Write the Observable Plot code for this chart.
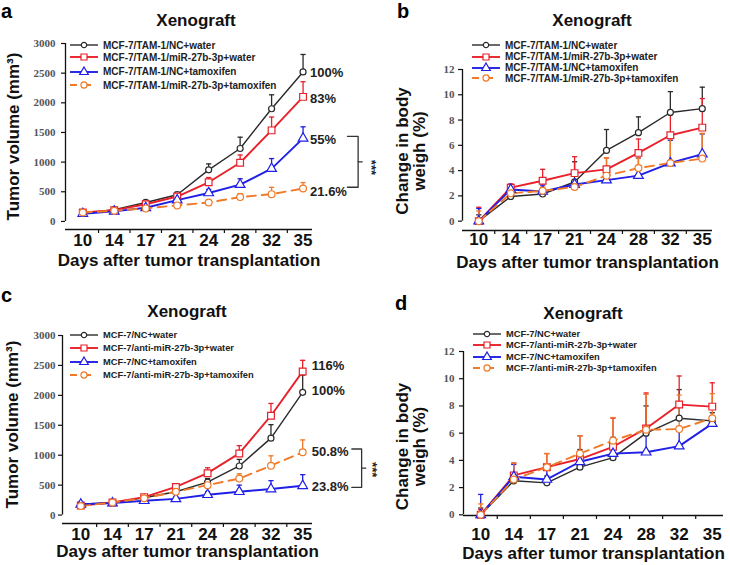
<!DOCTYPE html>
<html><head><meta charset="utf-8">
<script src="https://cdn.jsdelivr.net/npm/d3@7"></script>
<script src="https://cdn.jsdelivr.net/npm/@observablehq/plot@0.6"></script>
<style>
body{margin:0;background:#fff;font-family:"Liberation Sans",Arial,sans-serif;}
#root{position:relative;width:730px;height:565px;overflow:hidden;background:#fff;}
.panel{position:absolute;}
.panel svg{overflow:visible;background:transparent;}
.letter{position:absolute;font-weight:bold;font-size:20px;line-height:1;color:#000;}
.title{position:absolute;font-weight:bold;font-size:17px;line-height:1;transform:translateX(-50%);white-space:nowrap;color:#111;}
.lrow{position:absolute;display:flex;align-items:center;height:12px;white-space:nowrap;font-weight:bold;color:#222;}
</style>
</head><body><div id="root"></div>
<script>
// ---------- data ----------
const days = ["10","14","17","21","24","28","32","35"];

const aNames = ["MCF-7/TAM-1/NC+water","MCF-7/TAM-1/miR-27b-3p+water","MCF-7/TAM-1/NC+tamoxifen","MCF-7/TAM-1/miR-27b-3p+tamoxifen"];
const aBlack = [140, 200, 320, 450, 870, 1230, 1900, 2520];
const aBlackErr = [15, 25, 35, 45, 100, 190, 235, 295];
const aRed = [150, 190, 290, 420, 660, 990, 1535, 2100];
const aRedErr = [15, 25, 30, 40, 80, 130, 225, 255];
const aBlue = [130, 170, 230, 360, 480, 620, 890, 1400];
const aBlueErr = [10, 20, 25, 35, 60, 100, 170, 195];
const aOrange = [150, 180, 220, 270, 320, 410, 460, 555];
const aOrangeErr = [10, 15, 20, 20, 25, 60, 115, 100];
const aPctText = ["100%","83%","55%","21.6%"];
const aPctY = [2500, 2063, 1368, 492];
const aBracketY = [1435, 576];

const bBlack = [0, 1.95, 2.15, 3.1, 5.6, 7.0, 8.6, 8.9];
const bBlackErr = [0.5, 0.2, 0.2, 1.6, 1.65, 1.25, 1.65, 1.7];
const bRed = [0, 2.65, 3.2, 3.8, 4.1, 5.4, 6.8, 7.4];
const bRedErr = [1.1, 0.3, 0.9, 1.3, 0.9, 1.1, 1.8, 2.3];
const bBlue = [0, 2.5, 2.35, 2.9, 3.25, 3.6, 4.6, 5.3];
const bBlueErr = [1.0, 0.3, 0.5, 0.3, 0.3, 1.4, 1.8, 1.6];
const bOrange = [0, 2.2, 2.4, 2.7, 3.6, 4.2, 4.6, 4.95];
const bOrangeErr = [0.8, 0.3, 0.3, 0.5, 1.4, 0.8, 2.0, 2.0];

const cNames = ["MCF-7/NC+water","MCF-7/anti-miR-27b-3p+water","MCF-7/NC+tamoxifen","MCF-7/anti-miR-27b-3p+tamoxifen"];
const cBlack = [180, 210, 290, 390, 550, 820, 1285, 2050];
const cBlackErr = [15, 20, 25, 40, 60, 110, 225, 290];
const cRed = [160, 210, 300, 470, 700, 1030, 1660, 2400];
const cRedErr = [15, 20, 30, 40, 90, 130, 205, 185];
const cBlue = [180, 200, 240, 270, 340, 390, 435, 490];
const cBlueErr = [15, 15, 20, 30, 50, 110, 140, 185];
const cOrange = [150, 210, 280, 390, 500, 610, 825, 1050];
const cOrangeErr = [10, 15, 20, 30, 50, 80, 165, 205];
const cPctText = ["116%","100%","50.8%","23.8%"];
const cPctY = [2498, 2080, 1064, 473];
const cBracketY = [1104, 462];

const dBlack = [0, 2.5, 2.35, 3.5, 4.2, 6.0, 7.1, 6.9];
const dBlackErr = [0.5, 0.6, 0.5, 1.3, 1.5, 2.0, 2.1, 0.6];
const dRed = [0, 2.9, 3.5, 4.1, 5.0, 6.35, 8.1, 7.95];
const dRedErr = [0.4, 0.9, 1.0, 1.7, 2.1, 2.6, 2.1, 1.75];
const dBlue = [0, 2.8, 2.6, 3.9, 4.5, 4.6, 5.05, 6.7];
const dBlueErr = [1.5, 0.9, 0.7, 0.3, 0.3, 1.5, 1.2, 0.3];
const dOrange = [0, 2.6, 3.5, 4.5, 5.45, 6.25, 6.3, 7.1];
const dOrangeErr = [0.8, 1.2, 1.0, 1.3, 1.7, 2.6, 2.5, 1.8];

const styles = [
  {color:"#2a2a2a", symbol:"circle", r:3, width:1.4},
  {color:"#e8202a", symbol:"square", r:3.8, width:1.9},
  {color:"#1f1fe6", symbol:"triangle", r:3.6, width:1.9},
  {color:"#f07a28", symbol:"circle", r:3.4, width:1.9, dash:"9,6"}
];

const capSymbol = {draw(ctx, size){ const w = Math.sqrt(size/Math.PI); ctx.moveTo(-w,0); ctx.lineTo(w,0); }};

function makePanel(p){
  const root = document.getElementById("root");
  const wrap = document.createElement("div");
  wrap.className = "panel";
  Object.assign(wrap.style,{left:p.left+"px",top:p.top+"px",width:p.width+"px",height:p.height+"px"});
  root.appendChild(wrap);
  const idx = d3.range(days.length);
  const half = d3.range(days.length-1).map(i=>i+0.5);
  const series = p.values.map((vals,k)=>({...styles[k], name:p.names[k], data: vals.map((v,i)=>({i, v, top: v + p.errs[k][i]}))}));
  const marks = [];
  // axis lines
  marks.push(Plot.ruleX([p.xDomain[0]],{y1:p.yTicks[0], y2:p.yTicks[p.yTicks.length-1], stroke:"#111", strokeWidth:1.3}));
  marks.push(Plot.ruleY([p.yDomain[0]],{x1:p.xDomain[0], x2:p.xDomain[1], stroke:"#111", strokeWidth:1.3}));
  marks.push(Plot.axisY({ticks:p.yTicks, tickSize:4, tickFormat:()=>"", label:null, stroke:"#111", strokeWidth:1.2}));
  marks.push(Plot.axisY({ticks:p.yTicks, tickSize:0, tickPadding:p.yPad, tickFormat:d=>String(d), label:null, fontFamily:"Liberation Serif", fontWeight:"bold", fontSize:11, fill:"#555"}));
  marks.push(Plot.axisX({ticks:half, tickSize:4, tickFormat:()=>"", label:null, stroke:"#111", strokeWidth:1.2}));
  marks.push(Plot.axisX({ticks:idx, tickSize:0, tickPadding:p.xPad, tickFormat:i=>days[i], label:null, fontSize:17, fontWeight:"bold", fill:"#111"}));
  // axis titles
  marks.push(Plot.text([p.xTitle],{frameAnchor:"bottom", dy:p.xTitleDy, textAnchor:"middle", lineAnchor:"middle", fontSize:17, fontWeight:"bold", fill:"#111"}));
  marks.push(Plot.text([p.yTitle],{frameAnchor:"left", rotate:-90, dx:p.yTitleDx, dy:p.yTitleDy, textAnchor:"middle", lineAnchor:"middle", fontSize:17, fontWeight:"bold", fill:"#111", lineHeight:1.0}));
  // error bars
  for (const s of series){
    marks.push(Plot.ruleX(s.data,{x:"i", y1:"v", y2:"top", stroke:s.color, strokeWidth:1.3}));
    marks.push(Plot.dot(s.data,{x:"i", y:"top", symbol:capSymbol, r:2.6, fill:"none", stroke:s.color, strokeWidth:1.3}));
  }
  for (const s of series){
    marks.push(Plot.line(s.data,{x:"i", y:"v", stroke:s.color, strokeWidth:s.width, strokeDasharray:s.dash}));
  }
  for (const s of series){
    marks.push(Plot.dot(s.data,{x:"i", y:"v", symbol:s.symbol, r:s.r, fill:"white", stroke:s.color, strokeWidth:1.2}));
  }
  if (p.pctText){
    const last = days.length-1;
    const ann = p.pctText.map((t,j)=>({t, y:p.pctY[j], x:last}));
    marks.push(Plot.text(ann,{x:"x", y:"y", text:"t", dx:p.pctDx, textAnchor:"start", fontSize:13, fontWeight:"bold", fill:"#222"}));
    const [b0,b1] = p.bracketX, [top,bot] = p.bracketY, mid=(top+bot)/2;
    marks.push(Plot.line([{x:b0,y:top},{x:b1,y:top},{x:b1,y:bot},{x:b0,y:bot}],{x:"x", y:"y", stroke:"#333", strokeWidth:1.3, curve:"linear"}));
    marks.push(Plot.line([{x:b1,y:mid},{x:b1+0.13,y:mid}],{x:"x", y:"y", stroke:"#333", strokeWidth:1.3}));
    marks.push(Plot.text([{x:p.starX, y:p.starY}],{x:"x", y:"y", text:()=>"***", rotate:90, fontSize:13, fontWeight:"bold", fill:"#222"}));
  }
  const chart = Plot.plot({
    width:p.width, height:p.height,
    marginLeft:p.m[0], marginRight:p.m[1], marginTop:p.m[2], marginBottom:p.m[3],
    x:{type:"linear", domain:p.xDomain, axis:null},
    y:{type:"linear", domain:p.yDomain, axis:null},
    style:{overflow:"visible", background:"transparent", fontFamily:"Liberation Sans, Arial, sans-serif"},
    marks
  });
  wrap.appendChild(chart);
  // letter + title
  const L = document.createElement("div"); L.className="letter"; L.textContent=p.letter;
  Object.assign(L.style,{left:p.letterPos[0]+"px", top:p.letterPos[1]+"px"}); wrap.appendChild(L);
  const T = document.createElement("div"); T.className="title"; T.textContent="Xenograft";
  Object.assign(T.style,{left:p.titlePos[0]+"px", top:p.titlePos[1]+"px"}); wrap.appendChild(T);
  // legend
  series.forEach((s,k)=>{
    const row = document.createElement("div"); row.className="lrow";
    Object.assign(row.style,{left:p.legend.x+"px", top:(p.legend.rows[k]-6)+"px", fontSize:p.legend.size+"px"});
    const sw = d3.create("svg").attr("width",28).attr("height",12).style("overflow","visible");
    sw.append("line").attr("x1",0).attr("x2",28).attr("y1",6).attr("y2",6).attr("stroke",s.color).attr("stroke-width",s.width).attr("stroke-dasharray", s.dash ? "7,7" : null);
    const symType = {circle:d3.symbolCircle, square:d3.symbolSquare, triangle:d3.symbolTriangle}[s.symbol];
    sw.append("path").attr("transform","translate(14,6)").attr("d", d3.symbol(symType, Math.PI*s.r*s.r*0.8)()).attr("fill","white").attr("stroke",s.color).attr("stroke-width",1.2);
    row.appendChild(sw.node());
    const tx = document.createElement("span"); tx.textContent = s.name; tx.style.marginLeft = p.legend.gap+"px";
    row.appendChild(tx);
    wrap.appendChild(row);
  });
}

makePanel({
  left:0, top:0, width:365, height:282, m:[65,53,43,53],
  xDomain:[-0.55,7.3], yDomain:[-136,3000], yTicks:[0,500,1000,1500,2000,2500,3000], yPad:10, xPad:4,
  xTitle:"Days after tumor transplantation", xTitleDy:31,
  yTitle:"Tumor volume (mm³)", yTitleDx:-52, yTitleDy:0,
  names:aNames, values:[aBlack,aRed,aBlue,aOrange], errs:[aBlackErr,aRedErr,aBlueErr,aOrangeErr],
  pctText:aPctText, pctY:aPctY, pctDx:7, bracketX:[8.41,8.75], bracketY:aBracketY, starX:9.15, starY:910,
  letter:"a", letterPos:[1,1], titlePos:[196,12],
  legend:{x:70, gap:5, size:10, rows:[45,57.3,71.7,85]}
});
makePanel({
  left:365, top:0, width:365, height:282, m:[97,18,69,52],
  xDomain:[-0.51,7.32], yDomain:[-0.74,12], yTicks:[0,2,4,6,8,10,12], yPad:8, xPad:2,
  xTitle:"Days after tumor transplantation", xTitleDy:32,
  yTitle:"Change in body\nweigh (%)", yTitleDx:-51, yTitleDy:1,
  names:aNames, values:[bBlack,bRed,bBlue,bOrange], errs:[bBlackErr,bRedErr,bBlueErr,bOrangeErr],
  letter:"b", letterPos:[32,1], titlePos:[227,12],
  legend:{x:107, gap:5, size:10, rows:[45,56.7,67.7,78.3]}
});
makePanel({
  left:0, top:282, width:365, height:283, m:[62,53,53,42],
  xDomain:[-0.577,7.31], yDomain:[-141,3000], yTicks:[0,500,1000,1500,2000,2500,3000], yPad:7, xPad:4,
  xTitle:"Days after tumor transplantation", xTitleDy:28,
  yTitle:"Tumor volume (mm³)", yTitleDx:-49.5, yTitleDy:-5,
  names:cNames, values:[cBlack,cRed,cBlue,cOrange], errs:[cBlackErr,cRedErr,cBlueErr,cOrangeErr],
  pctText:cPctText, pctY:cPctY, pctDx:9, bracketX:[8.55,8.86], bracketY:cBracketY, starX:9.18, starY:758,
  letter:"c", letterPos:[1,3], titlePos:[187,21],
  legend:{x:70, gap:5, size:9.3, rows:[53,66.3,79.7,93]}
});
makePanel({
  left:365, top:282, width:365, height:283, m:[98,7,69,50],
  xDomain:[-0.52,7.34], yDomain:[-0.05,12], yTicks:[0,2,4,6,8,10,12], yPad:9, xPad:12,
  xTitle:"Days after tumor transplantation", xTitleDy:38,
  yTitle:"Change in body\nweigh (%)", yTitleDx:-52, yTitleDy:13,
  names:cNames, values:[dBlack,dRed,dBlue,dOrange], errs:[dBlackErr,dRedErr,dBlueErr,dOrangeErr],
  letter:"d", letterPos:[30,11], titlePos:[218,23],
  legend:{x:108, gap:5, size:9.3, rows:[52,63,74.7,86]}
});
</script>
</body></html>
